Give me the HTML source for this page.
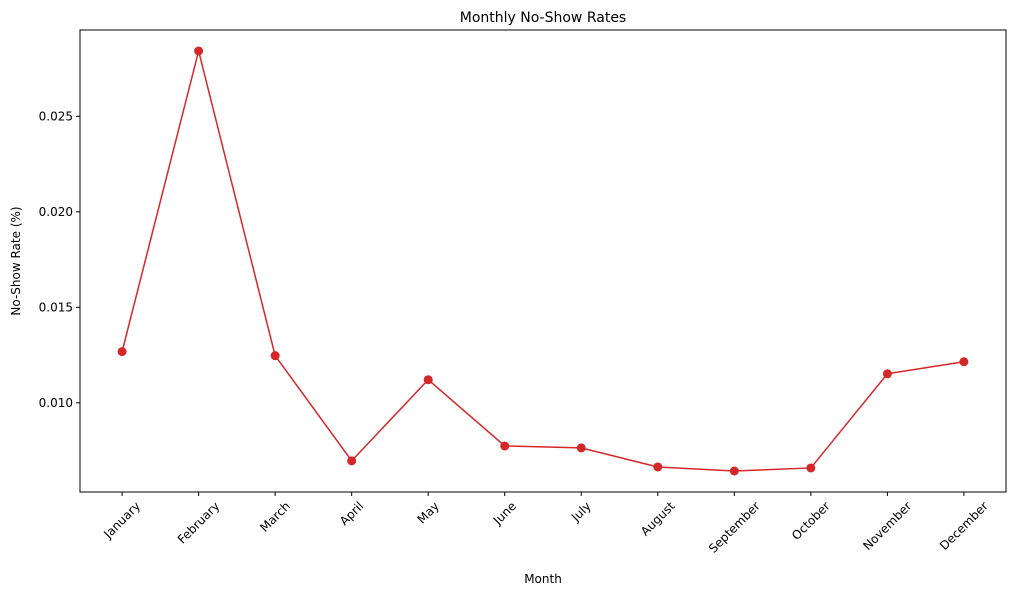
<!DOCTYPE html>
<html><head><meta charset="utf-8"><style>
body{margin:0;background:#fff;font-family:"Liberation Sans","DejaVu Sans",sans-serif;}
svg text{font-family:"DejaVu Sans","Liberation Sans",sans-serif;fill:#000;}
</style></head><body>
<svg id="chart" width="1019" height="595" xmlns="http://www.w3.org/2000/svg">
<rect width="1019" height="595" fill="#fff"/>
<text x="543" y="22" font-size="14" text-anchor="middle">Monthly No-Show Rates</text>
<text x="543" y="583" font-size="12" text-anchor="middle">Month</text>
<text transform="translate(20,261) rotate(-90)" font-size="12" text-anchor="middle">No-Show Rate (%)</text>
<g id="marks"></g>
<rect x="80" y="30" width="926" height="462" fill="none" stroke="#000" stroke-width="1"/>
</svg>
<script>
const categories=["January","February","March","April","May","June","July","August","September","October","November","December"];
const rates=[0.01268,0.02842,0.01247,0.00696,0.01121,0.00774,0.00764,0.00664,0.00643,0.00659,0.01152,0.01215];
const yTicks=[0.010,0.015,0.020,0.025];
const yTickLabels=["0.010","0.015","0.020","0.025"];
const L=80,R=1006,T=30,B=492;
const ns="http://www.w3.org/2000/svg";
const g=document.getElementById('marks');
const mn=Math.min(...rates),mx=Math.max(...rates),pad=(mx-mn)*0.05;
const y0=mn-pad,y1=mx+pad;
function yS(v){return B-(v-y0)/(y1-y0)*(B-T);}
function xS(i){const span=categories.length-1;const m=span*0.05;return L+(i+m)/(span+2*m)*(R-L);}
function mk(t,a){const e=document.createElementNS(ns,t);for(const k in a)e.setAttribute(k,a[k]);g.appendChild(e);return e;}
yTicks.forEach((v,i)=>{const y=yS(v);
 const tk=mk('line',{x1:L-4,x2:L,y1:y,y2:y,stroke:'#000'});
 
 
 const t=mk('text',{x:L-7,y:y+4,'font-size':12,'text-anchor':'end'});t.textContent=yTickLabels[i];
 
 
});
categories.forEach((c,i)=>{const x=xS(i);
 const tk=mk('line',{x1:x,x2:x,y1:B,y2:B+4,stroke:'#000'});
 
 
 const t=mk('text',{x:x,y:B+30,'font-size':12,'text-anchor':'middle','dominant-baseline':'central'});t.textContent=c;
 
 
 const w=t.getComputedTextLength();
 const yc=B+7+(w*0.707+14*0.707)/2;
 t.setAttribute('y',yc);
 t.setAttribute('transform',`rotate(-45 ${x} ${yc})`);
});
const pts=rates.map((v,i)=>xS(i)+','+yS(v)).join(' ');
const line=mk('polyline',{points:pts,fill:'none',stroke:'#d62728','stroke-width':1.5});


rates.forEach((v,i)=>{const c=mk('circle',{cx:xS(i),cy:yS(v),r:4.5,fill:'#d62728'});
 
 
});
</script>
</body></html>
